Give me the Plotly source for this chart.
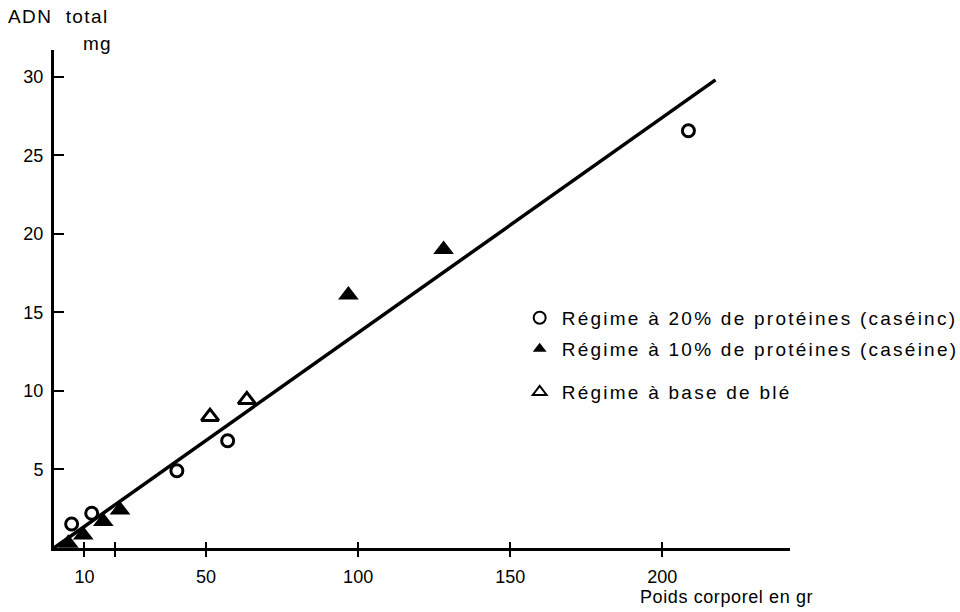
import plotly.graph_objects as go

# Poids corporel (g) et ADN total (mg) pour chaque régime
x_20pct = [5.8, 12.4, 40.4, 57.1, 208.6]
y_20pct = [1.53, 2.21, 4.92, 6.83, 26.56]

x_10pct = [4.7, 9.6, 16.2, 21.7, 96.8, 128.1]
y_10pct = [0.3, 0.83, 1.68, 2.42, 16.1, 19.0]

x_ble = [51.3, 63.4]
y_ble = [8.36, 9.43]

# Droite de régression tracée à la main
fit_x = [0, 217.5]
fit_y = [0, 29.8]

x_tickvals = [10, 20, 50, 100, 150, 200]
x_ticktext = ["10", "", "50", "100", "150", "200"]
y_tickvals = [5, 10, 15, 20, 25, 30]
y_ticktext = ["5", "10", "15", "20", "25", "30"]

label_20 = "Régime à 20% de protéines (caséinc)"
label_10 = "Régime à 10% de protéines (caséine)"
label_ble = "Régime à base de blé"

FONT = "Liberation Sans, Arial, sans-serif"


def spaced(text, ls):
    return f'<span style="letter-spacing:{ls}px">{text}</span>'


fig = go.Figure()

fig.add_trace(go.Scatter(
    x=fit_x, y=fit_y, mode="lines",
    line=dict(color="black", width=3.5),
    showlegend=False, hoverinfo="skip",
))

fig.add_trace(go.Scatter(
    x=x_20pct, y=y_20pct, mode="markers", name=spaced(label_20, 2.25),
    marker=dict(symbol="circle-open", size=12, color="black",
                line=dict(width=3, color="black")),
    legend="legend",
))
fig.add_trace(go.Scatter(
    x=x_10pct, y=y_10pct, mode="markers", name=spaced(label_10, 2.25),
    marker=dict(symbol="triangle-up", size=18, color="black",
                line=dict(width=0)),
    legend="legend2",
))
fig.add_trace(go.Scatter(
    x=x_ble, y=y_ble, mode="markers", name=spaced(label_ble, 2.25),
    marker=dict(symbol="triangle-up-open", size=15, color="black",
                line=dict(width=3, color="black")),
    legend="legend3",
))

legend_common = dict(
    xanchor="left", yanchor="middle",
    font=dict(family=FONT, size=19, color="black"),
    itemsizing="constant", itemwidth=34, bgcolor="rgba(0,0,0,0)",
)

fig.update_layout(
    width=960, height=612,
    margin=dict(l=54, r=170, t=50, b=64, autoexpand=False),
    paper_bgcolor="white", plot_bgcolor="white",
    font=dict(family=FONT, color="black"),
    legend=dict(x=0.630, y=0.462, **legend_common),
    legend2=dict(x=0.630, y=0.400, **legend_common),
    legend3=dict(x=0.630, y=0.313, **legend_common),
    xaxis=dict(
        range=[0, 242], showgrid=False, zeroline=False,
        showline=True, linecolor="black", linewidth=3,
        tickmode="array", tickvals=x_tickvals, ticktext=x_ticktext,
        ticks="outside", ticklen=6, tickwidth=2, tickcolor="black",
        ticklabelstandoff=4,
        tickfont=dict(family=FONT, size=18, color="black"),
    ),
    # second x axis carries the upper half of the crossing tick marks
    xaxis2=dict(
        overlaying="x", matches="x", side="bottom", anchor="y",
        range=[0, 242], showgrid=False, zeroline=False, showline=False,
        tickmode="array", tickvals=x_tickvals, showticklabels=False,
        ticks="inside", ticklen=6, tickwidth=2, tickcolor="black",
    ),
    yaxis=dict(
        range=[0, 31.7], showgrid=False, zeroline=False,
        showline=True, linecolor="black", linewidth=3,
        tickmode="array", tickvals=y_tickvals, ticktext=y_ticktext,
        ticks="inside", ticklen=10, tickwidth=2, tickcolor="black",
        ticklabelstandoff=4,
        tickfont=dict(family=FONT, size=18, color="black"),
    ),
    annotations=[
        dict(text=spaced("ADN  total", 1.4), xref="paper", yref="paper",
             x=-0.065, y=1.068, xanchor="left", yanchor="middle",
             showarrow=False, font=dict(family=FONT, size=19, color="black")),
        dict(text=spaced("mg", 1.2), xref="paper", yref="paper",
             x=0.037, y=1.014, xanchor="left", yanchor="middle",
             showarrow=False, font=dict(family=FONT, size=19, color="black")),
        dict(text=spaced("Poids corporel en gr", 0.6), xref="paper", yref="paper",
             x=0.794, y=-0.098, xanchor="left", yanchor="middle",
             showarrow=False, font=dict(family=FONT, size=18, color="black")),
    ],
)

# a dummy trace binds the overlay axis so its ticks are drawn
fig.add_trace(go.Scatter(x=[None], y=[None], xaxis="x2", yaxis="y",
                         showlegend=False, hoverinfo="skip"))

fig.write_html("out.html")
